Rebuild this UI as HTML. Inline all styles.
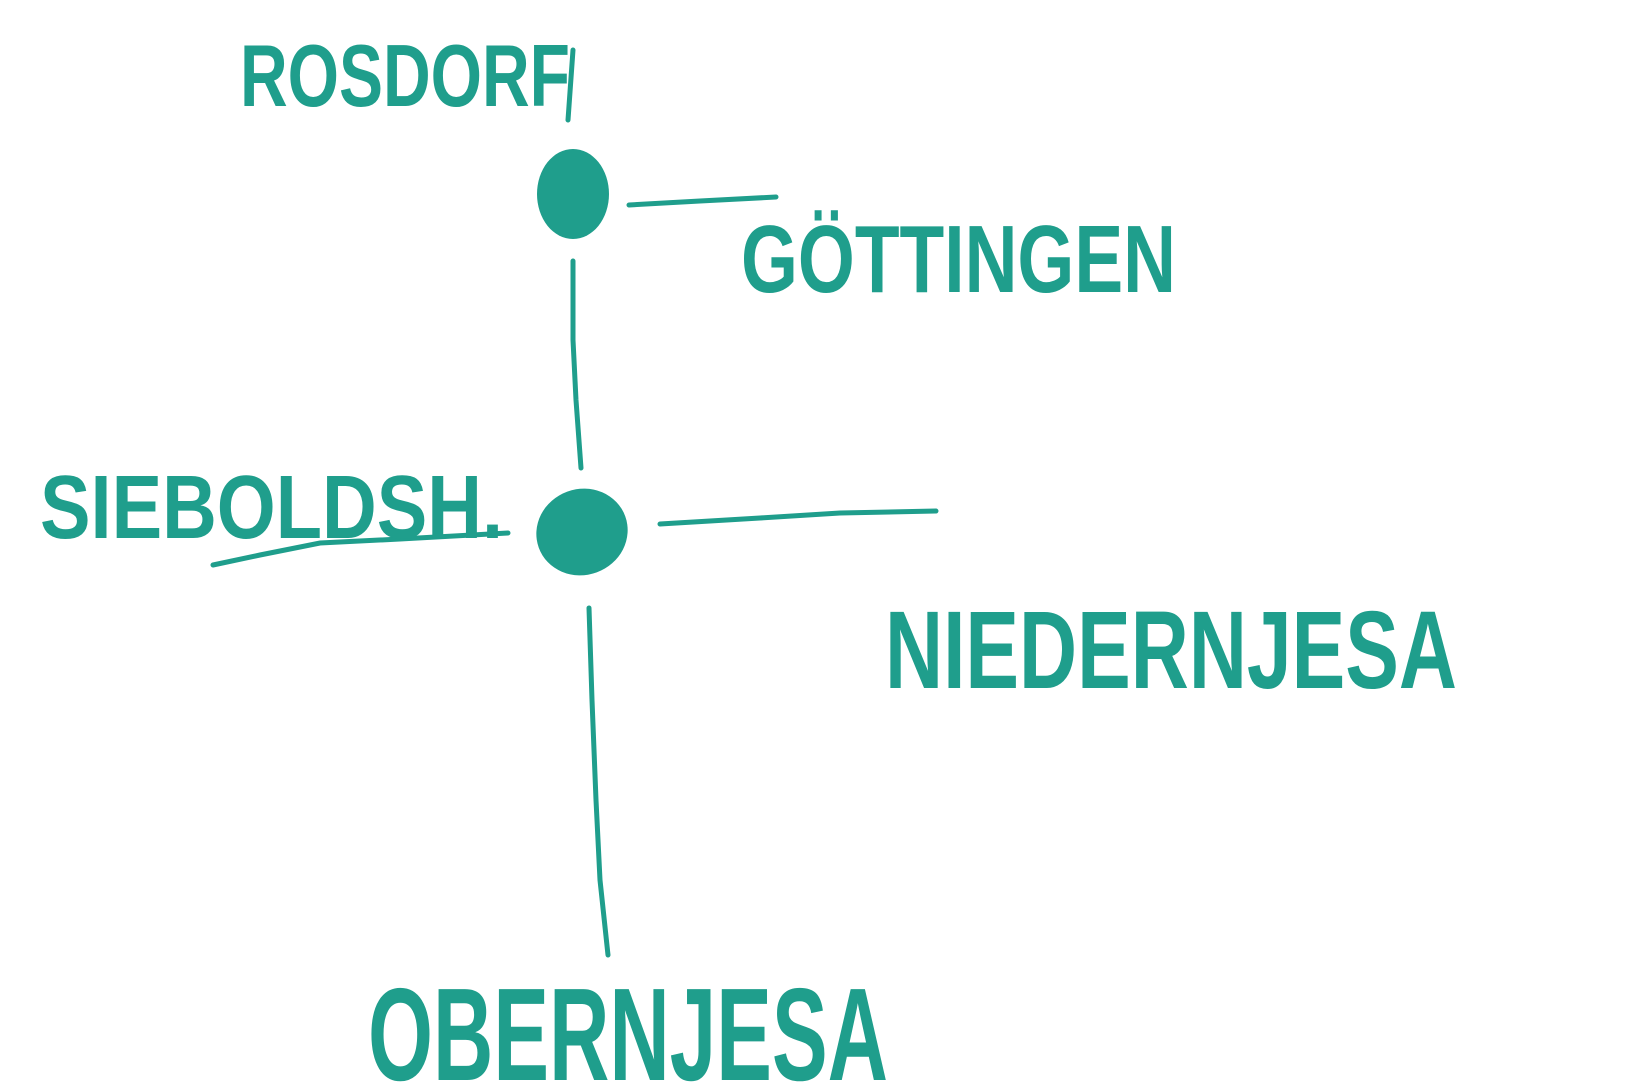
<!DOCTYPE html>
<html><head><meta charset="utf-8"><style>
html,body{margin:0;padding:0;background:#fff;width:1640px;height:1088px;overflow:hidden}
svg{display:block}
text{font-family:"Liberation Sans",sans-serif;font-weight:bold;fill:#1f9e8c}
</style></head><body>
<svg width="1640" height="1088" viewBox="0 0 1640 1088" xmlns="http://www.w3.org/2000/svg">
<g stroke="#1f9e8c" stroke-width="5" stroke-linecap="round" fill="none">
<path d="M573 50 L568 120"/>
<path d="M629 205 L700 201 L776 197"/>
<path d="M573 261 L573 340 L576 400 L581 468"/>
<path d="M213 565 L260 555 L320 543 L400 539 L508 533"/>
<path d="M660 524 L760 518 L840 513 L936 511"/>
<path d="M589 608 L592 700 L596 800 L600 880 L608 955"/>
</g>
<ellipse cx="573" cy="194" rx="36" ry="45" fill="#1f9e8c"/>
<ellipse cx="582" cy="532" rx="46" ry="43" fill="#1f9e8c" transform="rotate(-20 582 532)"/>
<text x="240" y="106" font-size="88" textLength="330" lengthAdjust="spacingAndGlyphs">ROSDORF</text>
<text x="741" y="292" font-size="96" textLength="435" lengthAdjust="spacingAndGlyphs">GÖTTINGEN</text>
<text x="40" y="538" font-size="90" textLength="463" lengthAdjust="spacingAndGlyphs">SIEBOLDSH.</text>
<text x="885" y="688" font-size="110" textLength="572" lengthAdjust="spacingAndGlyphs">NIEDERNJESA</text>
<text x="368" y="1080" font-size="132" textLength="520" lengthAdjust="spacingAndGlyphs">OBERNJESA</text>
</svg>
</body></html>
